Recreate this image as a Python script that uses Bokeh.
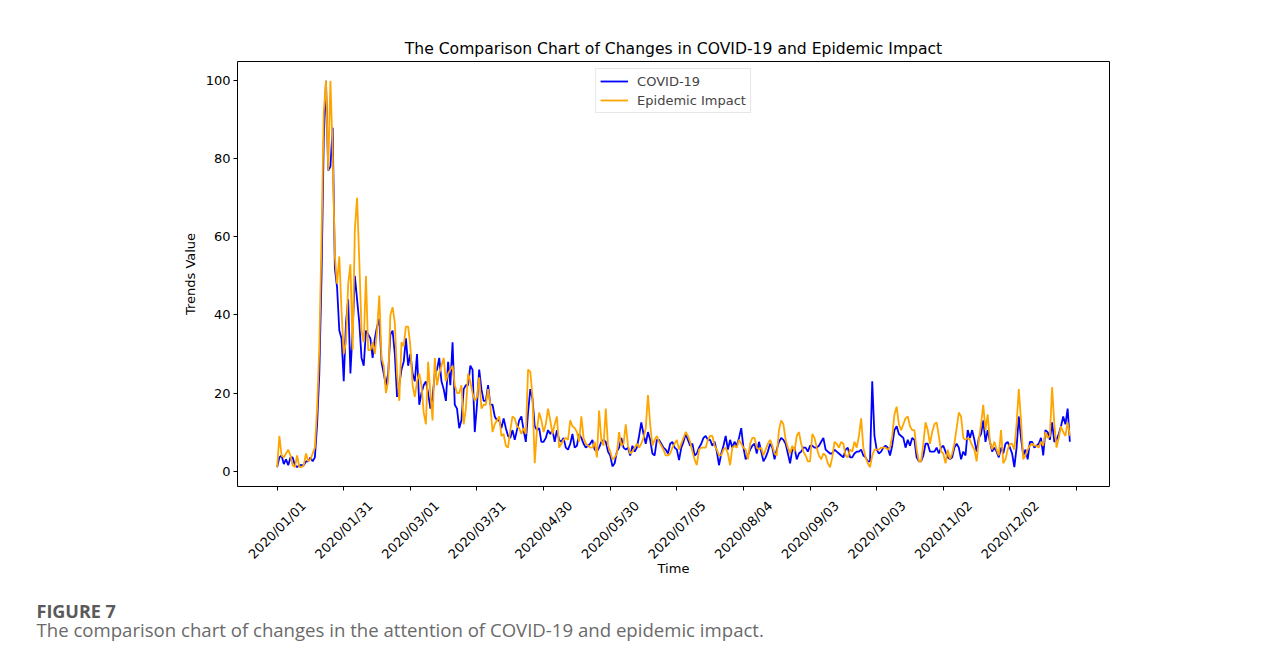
import math
from bokeh.plotting import figure
from bokeh.models import (FixedTicker, Range1d, Legend, LegendItem, LinearAxis,
                          CustomJSTickFormatter, Title)
from bokeh.embed import file_html
from bokeh.resources import INLINE

covid = [
    1, 3.5, 4, 1.8, 3, 1.5, 3.5, 3.5, 1.5, 1,
    1.5, 1.5, 1.5, 2.5, 2.5, 3.5, 2.5, 3.5, 12, 25,
    50, 85, 100, 77, 78, 88, 52, 47, 36, 34,
    23, 38, 44, 25, 36, 50, 44, 38, 29, 27,
    36, 35, 34, 29, 34, 37, 39, 28, 25, 22,
    25, 35, 36, 30, 19, 22, 26, 28, 34, 27,
    30, 25, 23, 30, 17, 20, 22, 23, 20, 16,
    19, 25, 26, 29, 23, 21, 18, 28, 22, 33,
    17, 16, 11, 13, 21, 22, 22, 27, 26, 10,
    17, 26, 21, 18, 18, 22, 17, 17, 14, 13,
    13, 11, 13.5, 11, 9, 8.5, 10.5, 8, 10.5, 13,
    14, 10.5, 7.5, 15, 21, 18.5, 11.5, 10.5, 11, 7.5,
    7.5, 8.5, 10.5, 9.5, 10.5, 7.5, 10.5, 8, 7.5, 8.5,
    6, 5.5, 7, 9.5, 6, 6.5, 9.5, 8.5, 7, 6,
    6.5, 7, 8, 5.5, 5, 6, 7.5, 8, 7.5, 5,
    4, 1.2, 2, 5, 6, 8.5, 6, 5.5, 6, 4,
    6.5, 5, 6, 9, 12.5, 9.5, 7, 10, 8, 4.5,
    4, 8, 8, 7, 6, 5.5, 4.5, 7, 7.5, 6,
    5.5, 2.8, 6, 7.5, 9.5, 8, 6.5, 7, 4, 4.5,
    6, 7, 8.5, 9, 8, 8, 6.5, 7.5, 5, 1.5,
    4.5, 6.5, 9, 5.5, 8, 6, 7.5, 6.5, 8.5, 11,
    6, 3, 4, 5.5, 6.5, 7, 4.5, 7.5, 5, 2.5,
    3.5, 5, 7, 6, 3, 5.5, 7.5, 8.5, 8, 7,
    4.5, 2, 5.5, 6, 3, 4.5, 5, 6, 6, 5,
    6.5, 6.5, 6, 6, 6.5, 7.5, 8.5, 5.5, 5, 4.5,
    4.5, 5.5, 5, 4.5, 4, 3.5, 5.5, 6, 3.5, 3.5,
    4.5, 5, 5, 5.5, 4, 3.5, 2.5, 2.5, 23, 9,
    5.5, 4.5, 5, 6, 6.5, 6, 4, 6.5, 10.5, 11.5,
    9.5, 9, 8.5, 6, 8, 6.5, 8.5, 8, 3.5, 2.5,
    2.5, 4, 7, 7, 5, 5, 5, 6, 4.5, 6,
    6.5, 5, 3.5, 3, 3.5, 6, 7, 6, 3, 5,
    4, 10.5, 8.5, 10.5, 8, 5, 8.5, 9.5, 13, 7.5,
    10.5, 7.5, 5, 6, 5, 3.5, 6, 4.5, 7, 7.5,
    6, 4.5, 1, 6, 14, 8.5, 4, 5.5, 3, 7.5,
    7.5, 6, 6.5, 7, 8.5, 4, 10.5, 10, 8, 12.5,
    7.5, 8, 9.5, 11.5, 14, 12, 16, 7.5,
]

impact = [
    1, 9, 4, 3.5, 4.5, 5.5, 4, 1.5, 1, 4,
    1, 1, 1.5, 4.5, 2.5, 3, 4.5, 6, 16, 32,
    60, 92, 100, 77, 100, 82, 55, 48, 55, 41,
    30, 33, 48, 53, 31, 62, 70, 54, 36, 33,
    50, 31, 31, 33, 30, 36, 45, 29, 27, 20,
    23, 40, 42, 38, 25, 18, 33, 32, 37, 37,
    32, 22, 19, 23, 25, 22, 15, 12, 28, 20,
    13, 29, 22, 25, 27, 29, 23, 25, 26, 27,
    22, 20, 20, 22, 12, 16, 25, 23, 20, 18,
    19, 24, 16, 17, 17, 21, 17, 10, 12, 13,
    14, 9, 9.5, 6.5, 6, 10.5, 14, 13.5, 11.5, 11,
    9.5, 11, 9.5, 26, 25.5, 19, 2, 10.5, 15, 13,
    10, 12, 16, 13, 9.5, 12, 14, 6, 7, 8,
    8.5, 8, 13, 11.5, 11, 10, 7.5, 14, 8.5, 7,
    6.5, 6, 6, 7.5, 3.5, 15.5, 8, 6.5, 16, 6.5,
    5, 3, 3.5, 4.5, 10, 6.5, 7, 12, 6.5, 4.5,
    5, 6, 7, 6, 7, 8.5, 11, 19.5, 12, 6.5,
    8, 9, 7.5, 6.5, 5.5, 4, 4, 4.5, 6, 7,
    8, 5.5, 7, 8.5, 10, 9, 7.5, 5, 3, 1.5,
    5.5, 6, 6, 6, 8, 9, 9, 6.5, 5.5, 4,
    4, 5.5, 6, 4.5, 1.5, 6, 6.5, 6, 8, 7,
    6, 5.5, 3, 7, 8.5, 8.5, 6, 5.5, 6, 4,
    5.5, 7, 8, 6.5, 4.5, 4, 10.5, 13, 12, 8,
    6, 4.5, 6.5, 5, 9, 10, 7, 5, 4, 2.5,
    2.5, 9.5, 8.5, 6, 4, 3, 4.5, 4, 2, 1,
    3.5, 7.5, 7, 6, 7.5, 7, 4, 3.5, 5.5, 5,
    7.5, 6, 9, 13.5, 6, 3.5, 2, 1, 4, 5.5,
    5.5, 5.5, 6, 6, 6, 5.5, 6, 9, 14.5, 16.5,
    12, 10.5, 12, 13.5, 14, 11.5, 10.5, 10.5, 5.5, 2.5,
    2.5, 7, 12.5, 10.5, 7, 10, 12, 12.5, 9, 5,
    4.5, 2, 5.5, 3, 4.5, 7, 11, 15, 14, 8.5,
    8, 8.5, 8, 6.5, 5.5, 2.5, 8, 12, 17, 10.5,
    14.5, 7.5, 5.5, 7.5, 5.5, 4, 10.5, 2, 3, 5.5,
    7, 7, 5.5, 12, 21, 13, 3, 4, 5.5, 6.5,
    7, 6.5, 6.5, 6, 7.5, 6.5, 10, 8.5, 9, 21.5,
    12, 6, 8.5, 11.5, 10, 9, 12.5, 9,
]

tick_positions = [0, 30, 60, 90, 120, 150, 180, 210, 240, 270, 300, 330, 360]
tick_labels = ["2020/01/01", "2020/01/31", "2020/03/01", "2020/03/31", "2020/04/30",
               "2020/05/30", "2020/07/05", "2020/08/04", "2020/09/03", "2020/10/03",
               "2020/11/02", "2020/12/02"]
y_ticks = [0, 20, 40, 60, 80, 100]

title_text = "The Comparison Chart of Changes in COVID-19 and Epidemic Impact"
caption_head = "FIGURE 7"
caption_body = "The comparison chart of changes in the attention of COVID-19 and epidemic impact."

FONT = "DejaVu Sans"
n = len(covid)
days = list(range(n))
ymin, ymax = min(min(covid), min(impact)), max(max(covid), max(impact))
ypad = (ymax - ymin) * 0.05
xpad = (n - 1) * 0.05

p = figure(width=1272, height=652, output_backend="svg", toolbar_location=None,
           x_range=Range1d(-xpad, n - 1 + xpad), y_range=Range1d(ymin - ypad, ymax + ypad),
           min_border_left=237, min_border_right=163, min_border_top=61,
           min_border_bottom=166)
p.background_fill_color = "white"
p.border_fill_color = "white"
p.outline_line_color = "black"
p.outline_line_width = 1
p.xgrid.visible = False
p.ygrid.visible = False

p.title.text = title_text
p.title.align = "center"
p.title.text_font = FONT
p.title.text_font_size = "15.6px"
p.title.text_font_style = "normal"
p.title.text_color = "black"
p.title.standoff = 7

r1 = p.line(days, covid, line_color="blue", line_width=1.8)
r2 = p.line(days, impact, line_color="orange", line_width=1.8)

# x axis: tick marks at the real positions
p.xaxis.ticker = FixedTicker(ticks=tick_positions)
p.xaxis.formatter = CustomJSTickFormatter(code="return '';")
p.xaxis.major_label_standoff = 0
p.yaxis.ticker = FixedTicker(ticks=y_ticks)
p.yaxis.axis_label = "Trends Value"
p.yaxis.axis_label_standoff = 5
for ax in (p.xaxis[0], p.yaxis[0]):
    ax.axis_line_color = None
    ax.minor_tick_line_color = None
    ax.major_tick_in = 0
    ax.major_tick_out = 4
    ax.major_tick_line_color = "black"
    ax.major_label_text_font = FONT
    ax.axis_label_text_font = FONT
    ax.axis_label_text_font_size = "13px"
    ax.axis_label_text_font_style = "normal"
    ax.axis_label_text_color = "black"
    ax.major_label_text_color = "black"
p.yaxis.major_label_text_font_size = "13px"
p.yaxis.major_label_standoff = 3

# x axis: rotated date labels, centred on the ticks (matplotlib style)
SHIFT = 12
lab_axis = LinearAxis(
    ticker=FixedTicker(ticks=[t + SHIFT for t in tick_positions[:len(tick_labels)]]),
    formatter=CustomJSTickFormatter(args=dict(labels=tick_labels, shift=SHIFT),
                                    code="const i = Math.round((tick - shift) / 30); return labels[i] || '';"),
    major_label_orientation=math.pi / 4, major_label_standoff=13,
    major_label_text_font=FONT, major_label_text_font_size="13px",
    major_label_text_color="black",
    axis_line_color=None, major_tick_line_color=None, minor_tick_line_color=None,
    major_tick_in=0, major_tick_out=0,
    axis_label="Time", axis_label_standoff=-9, axis_label_text_font=FONT,
    axis_label_text_font_size="13px", axis_label_text_font_style="normal",
    axis_label_text_color="black")
p.add_layout(lab_axis, "below")

# invisible spacer between the x axis and the caption (one white tick, no label)
spacer = LinearAxis(ticker=FixedTicker(ticks=[-10]),
                    formatter=CustomJSTickFormatter(code="return '';"),
                    axis_line_color=None, major_tick_line_color="white",
                    minor_tick_line_color=None, major_tick_in=0, major_tick_out=17,
                    major_label_standoff=0)
p.add_layout(spacer, "below")

legend = Legend(items=[LegendItem(label="COVID-19", renderers=[r1]),
                       LegendItem(label="Epidemic Impact", renderers=[r2])],
                location="top_center", margin=7, padding=4, spacing=3,
                glyph_width=28, glyph_height=16, label_height=16, label_standoff=9,
                label_text_font=FONT, label_text_font_size="13px",
                border_line_color="#d0d0d0", border_line_width=1,
                background_fill_alpha=0.8)
p.add_layout(legend)

t1 = Title(text=caption_head, align="left", offset=-201, standoff=0,
           text_font="Open Sans", text_font_size="18px", text_font_style="bold",
           text_color="#5a5a5a")
p.add_layout(t1, "below")
t2 = Title(text=caption_body, align="left", offset=-201, standoff=-15,
           text_font="Open Sans", text_font_size="18.6px", text_font_style="normal",
           text_color="#6a6a6a")
p.add_layout(t2, "below")

open("out.html", "w").write(file_html(p, INLINE))
